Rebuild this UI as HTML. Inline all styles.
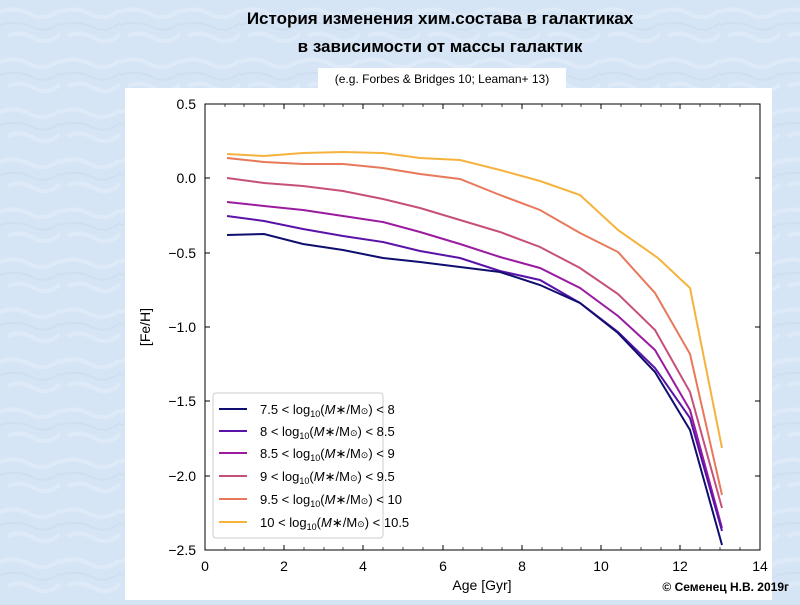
<!DOCTYPE html>
<html><head><meta charset="utf-8"><style>
body{margin:0;width:800px;height:600px;overflow:hidden;background:#d4e4f4;font-family:"Liberation Sans",sans-serif;}
</style></head><body>
<svg width="800" height="600" xmlns="http://www.w3.org/2000/svg" font-family="Liberation Sans, DejaVu Sans, sans-serif">
<defs><pattern id="p" width="60" height="50" patternUnits="userSpaceOnUse"><rect width="60" height="50" fill="#d6e5f5"/><path d="M0 12 Q15 6 30 14 T60 10 M8 36 Q20 30 34 38 T60 34" stroke="#e2edf9" stroke-width="4" fill="none" opacity="0.7"/><path d="M0 25 Q18 20 32 27 T60 23" stroke="#c6daef" stroke-width="2" fill="none" opacity="0.6"/></pattern></defs>
<rect width="800" height="600" fill="url(#p)"/>
<text x="440" y="24" font-size="17" font-weight="bold" text-anchor="middle" fill="#000">История  изменения хим.состава в галактиках</text>
<text x="440" y="52" font-size="17" font-weight="bold" text-anchor="middle" fill="#000">в зависимости от массы галактик</text>
<rect x="318" y="68" width="248" height="21" fill="#fff"/>
<text x="442" y="83" font-size="12" text-anchor="middle">(e.g. Forbes &amp; Bridges 10; Leaman+ 13)</text>
<rect x="125" y="88" width="647" height="512" fill="#fff"/>
<rect x="205" y="104" width="555" height="446" fill="none" stroke="#000" stroke-width="1"/>
<g font-size="14" fill="#000" text-anchor="end">
<text x="196" y="109">0.5</text><text x="196" y="183">0.0</text><text x="196" y="258">−0.5</text><text x="196" y="332">−1.0</text><text x="196" y="406">−1.5</text><text x="196" y="481">−2.0</text><text x="196" y="555">−2.5</text></g>
<g font-size="14" text-anchor="middle"><text x="205" y="571">0</text><text x="284" y="571">2</text><text x="363" y="571">4</text><text x="443" y="571">6</text><text x="522" y="571">8</text><text x="601" y="571">10</text><text x="680" y="571">12</text><text x="760" y="571">14</text>
<text x="482" y="590">Age [Gyr]</text></g>
<text x="150" y="327" font-size="14" text-anchor="middle" transform="rotate(-90 150 327)">[Fe/H]</text>
<g stroke="#000" stroke-width="1">
<path d="M205 104v5M284 104v5M363 104v5M443 104v5M522 104v5M601 104v5M680 104v5M205 550v-5M284 550v-5M363 550v-5M443 550v-5M522 550v-5M601 550v-5M680 550v-5M205 178h5M205 253h5M205 327h5M205 401h5M205 476h5M755 178h5M755 253h5M755 327h5M755 401h5M755 476h5"/>
</g>
<g stroke="#000" stroke-width="0.7">
<path d="M225 104v3M244 104v3M264 104v3M304 104v3M324 104v3M343 104v3M383 104v3M403 104v3M423 104v3M463 104v3M482 104v3M502 104v3M542 104v3M562 104v3M581 104v3M621 104v3M641 104v3M661 104v3M700 104v3M720 104v3M740 104v3
M225 550v-3M244 550v-3M264 550v-3M304 550v-3M324 550v-3M343 550v-3M383 550v-3M403 550v-3M423 550v-3M463 550v-3M482 550v-3M502 550v-3M542 550v-3M562 550v-3M581 550v-3M621 550v-3M641 550v-3M661 550v-3M700 550v-3M720 550v-3M740 550v-3"/>
</g>
<g fill="none" stroke-width="2">
<polyline stroke="#f5b33e" points="227,154 264,156 303,153 343,152 383,153 420,158 460,160 500,170 540,181 580,195 618,230 658,258 690,288 722,448"/>
<polyline stroke="#e7795a" points="227,158 264,162 303,164 343,164 383,168 420,174 460,179 500,195 540,210 580,233 618,252 655,293 690,354 722,495"/>
<polyline stroke="#c7507a" points="227,178 264,183 303,186 343,191 383,199 420,208 460,220 500,232 540,247 580,268 618,294 655,330 690,392 722,508"/>
<polyline stroke="#9a1ba0" points="227,202 264,206 303,210 343,216 383,222 420,232 460,244 500,257 540,268 580,288 618,316 655,350 690,410 722,528"/>
<polyline stroke="#5a12a8" points="227,216 264,221 303,229 343,236 383,242 420,251 460,258 500,271 540,280 580,303 618,332 655,368 690,418 722,531"/>
<polyline stroke="#0f0e6e" points="227,235 264,234 303,244 343,250 383,258 420,262 460,267 500,272 540,285 580,303 618,333 655,372 690,430 722,545"/>
</g>
<rect x="213" y="393" width="170" height="145" rx="3" fill="#fff" stroke="#ccc"/>
<g stroke-width="2">
<line x1="219" y1="409" x2="247" y2="409" stroke="#0f0e6e"/>
<line x1="219" y1="431" x2="247" y2="431" stroke="#5a12a8"/>
<line x1="219" y1="453" x2="247" y2="453" stroke="#9a1ba0"/>
<line x1="219" y1="476" x2="247" y2="476" stroke="#c7507a"/>
<line x1="219" y1="499" x2="247" y2="499" stroke="#e7795a"/>
<line x1="219" y1="522" x2="247" y2="522" stroke="#f5b33e"/>
</g>
<g font-size="13">
<text x="260" y="414">7.5 &lt; log<tspan font-size="9" dy="3">10</tspan><tspan dy="-3">(</tspan><tspan font-style="italic">M</tspan>∗/M<tspan font-size="9">⊙</tspan>) &lt; 8</text>
<text x="260" y="436">8 &lt; log<tspan font-size="9" dy="3">10</tspan><tspan dy="-3">(</tspan><tspan font-style="italic">M</tspan>∗/M<tspan font-size="9">⊙</tspan>) &lt; 8.5</text>
<text x="260" y="458">8.5 &lt; log<tspan font-size="9" dy="3">10</tspan><tspan dy="-3">(</tspan><tspan font-style="italic">M</tspan>∗/M<tspan font-size="9">⊙</tspan>) &lt; 9</text>
<text x="260" y="481">9 &lt; log<tspan font-size="9" dy="3">10</tspan><tspan dy="-3">(</tspan><tspan font-style="italic">M</tspan>∗/M<tspan font-size="9">⊙</tspan>) &lt; 9.5</text>
<text x="260" y="504">9.5 &lt; log<tspan font-size="9" dy="3">10</tspan><tspan dy="-3">(</tspan><tspan font-style="italic">M</tspan>∗/M<tspan font-size="9">⊙</tspan>) &lt; 10</text>
<text x="260" y="527">10 &lt; log<tspan font-size="9" dy="3">10</tspan><tspan dy="-3">(</tspan><tspan font-style="italic">M</tspan>∗/M<tspan font-size="9">⊙</tspan>) &lt; 10.5</text>
</g>
<text x="789" y="591" font-size="12" font-weight="bold" text-anchor="end">© Семенец Н.В. 2019г</text>
</svg>
</body></html>
